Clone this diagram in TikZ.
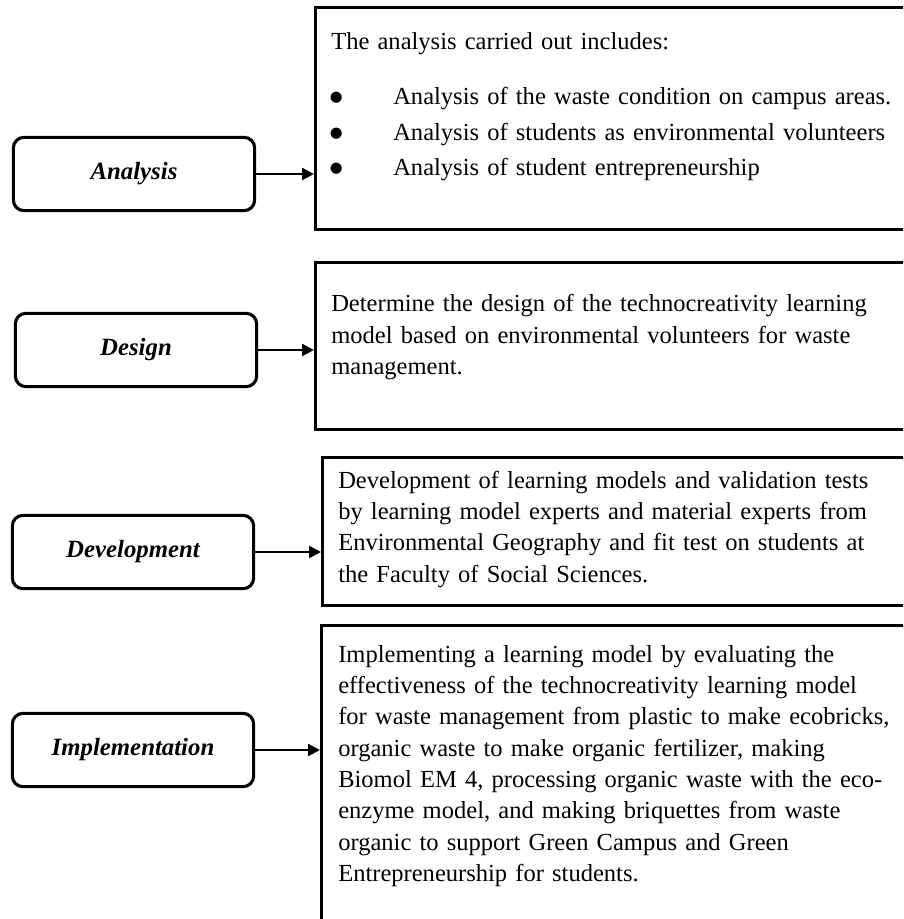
\documentclass[tikz,border=0pt]{standalone}
\usepackage{fontspec}
\setmainfont{Liberation Serif}
\newfontfamily\dotfont{DejaVu Sans}
\usetikzlibrary{arrows.meta,positioning}
\tikzset{
  stage/.style={draw,line width=2.3pt,rounded corners=8pt,minimum width=181pt,
    minimum height=55pt,font=\fontsize{18.6}{20}\selectfont\bfseries\itshape},
  frame/.style={draw,line width=2.6pt,anchor=north west,inner sep=0pt},
  body/.style={anchor=base west,align=left,inner sep=0pt,text width=520pt,
    font=\fontsize{18.4}{23.5}\selectfont},
  link/.style={-{Triangle[length=9pt,width=9pt]},line width=1.7pt}
}
\newcommand{\bul}{\hspace*{-1pt}\makebox[47.5pt][l]{\raisebox{2.2pt}{\dotfont\fontsize{11}{11}\selectfont ●}}}

\begin{document}
\begin{tikzpicture}[x=0.75pt,y=-0.75pt]
\useasboundingbox (0,0) rectangle (903,919);
\clip (0,0) rectangle (903,919);
% stages on the left
\node[stage] (analysis) at (134,174) {Analysis};
\node[stage] (design) at (136,350) {Design};
\node[stage] (development) at (133,552) {Development};
\node[stage] (implementation) at (133,750) {Implementation};
% frames on the right (open to the page edge)
\node[frame,minimum width=500pt,minimum height=166.5pt] (f1) at (314,6) {};
\node[frame,minimum width=500pt,minimum height=125pt] (f2) at (314,261) {};
\node[frame,minimum width=500pt,minimum height=111pt] (f3) at (321,456) {};
\node[frame,minimum width=500pt,minimum height=260pt] (f4) at (320,624) {};
% texts
\node[body,font=\fontsize{18.4}{26.6}\selectfont] (t1) at (331,50) {The analysis carried out includes:\\[14.6pt]
\bul Analysis of the waste condition on campus areas.\\
\bul Analysis of students as environmental volunteers\\
\bul Analysis of student entrepreneurship};
\node[body] (t2) at (331,312) {Determine the design of the technocreativity learning\\
model based on environmental volunteers for waste\\
management.};
\node[body] (t3) at (338,488) {Development of learning models and validation tests\\
by learning model experts and material experts from\\
Environmental Geography and fit test on students at\\
the Faculty of Social Sciences.};
\node[body] (t4) at (338,662) {Implementing a learning model by evaluating the\\
effectiveness of the technocreativity learning model\\
for waste management from plastic to make ecobricks,\\
organic waste to make organic fertilizer, making\\
Biomol EM 4, processing organic waste with the eco-\\
enzyme model, and making briquettes from waste\\
organic to support Green Campus and Green\\
Entrepreneurship for students.};
% arrows
\draw[link] (analysis.east) -- (analysis.east -| f1.west);
\draw[link] (design.east) -- (design.east -| f2.west);
\draw[link] (development.east) -- (development.east -| f3.west);
\draw[link] (implementation.east) -- (implementation.east -| f4.west);
\end{tikzpicture}
\end{document}
